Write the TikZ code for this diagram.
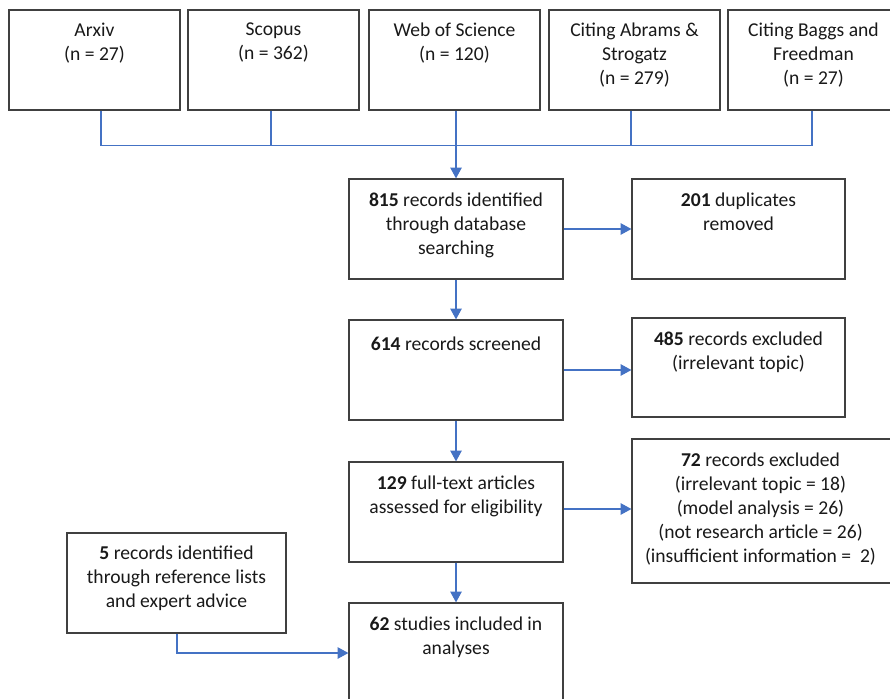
\documentclass[tikz,border=0pt]{standalone}
\usepackage{fontspec}
\setmainfont{Carlito}
\usetikzlibrary{fit,calc,arrows.meta}
\definecolor{conn}{HTML}{4472C4}
\definecolor{boxline}{HTML}{404040}
\begin{document}
\begin{tikzpicture}[x=0.75pt,y=-0.75pt,
  box/.style={draw=boxline,line width=0.9pt,inner sep=0pt,rectangle},
  lbl/.style={inner sep=0pt,align=center,font=\fontsize{14.7}{18}\selectfont,text=black!90,
    execute at begin node={\rule{0pt}{12.6pt}}},
  link/.style={draw=conn,line width=0.8pt},
  arrow/.style={link,-{Triangle[length=8pt,width=8.5pt]}}]
\useasboundingbox (0,0) rectangle (890,699);
\clip (0,0) rectangle (890,699);
% top source boxes
\node[box,fit={(9,10)(180,110)}] (a1) {};
\node[box,fit={(188,10)(359,110)}] (a2) {};
\node[box,fit={(369,10)(540,110)}] (a3) {};
\node[box,fit={(549,10)(720,110)}] (a4) {};
\node[box,fit={(728,10)(899,110)}] (a5) {};
\node[lbl,anchor=north] (ta1) at ($(a1.north)+(0,13.5)$) {Arxiv\\(n = 27)};
\node[lbl,anchor=north] (ta2) at ($(a2.north)+(0,13.5)$) {Scopus\\(n = 362)};
\node[lbl,anchor=north] (ta3) at ($(a3.north)+(0,13.5)$) {Web of Science\\(n = 120)};
\node[lbl,anchor=north] (ta4) at ($(a4.north)+(0,13.5)$) {Citing Abrams \&\\Strogatz\\(n = 279)};
\node[lbl,anchor=north] (ta5) at ($(a5.north)+(0,13.5)$) {Citing Baggs and\\Freedman\\(n = 27)};
% main column
\node[box,fit={(349,179)(563,279)}] (b815) {};
\node[box,fit={(632,179)(845,279)}] (b201) {};
\node[box,fit={(349,320)(563,420)}] (b614) {};
\node[box,fit={(632,318)(845,417)}] (b485) {};
\node[box,fit={(349,462)(563,562)}] (b129) {};
\node[box,fit={(632,439)(893,583)}] (b72) {};
\node[box,fit={(67,533)(286,633)}] (b5) {};
\node[box,fit={(349,603)(563,703)}] (b62) {};
\node[lbl,anchor=north] (t815) at ($(b815.north)+(0,14)$) {\textbf{815} records identified\\through database\\searching};
\node[lbl,anchor=north] (t201) at ($(b201.north)+(0,14)$) {\textbf{201} duplicates\\removed};
\node[lbl,anchor=north] (t614) at ($(b614.north)+(0,14)$) {\textbf{614} records screened};
\node[lbl,anchor=north] (t485) at ($(b485.north)+(0,14)$) {\textbf{485} records excluded\\(irrelevant topic)};
\node[lbl,anchor=north] (t129) at ($(b129.north)+(0,14)$) {\textbf{129} full-text articles\\assessed for eligibility};
\node[lbl,anchor=north] (t72) at ($(b72.north)+(-2,14)$) {\textbf{72} records excluded\\(irrelevant topic = 18)\\(model analysis = 26)\\(not research article = 26)\\(insufficient information = \ 2)};
\node[lbl,anchor=north] (t5) at ($(b5.north)+(0,13.5)$) {\textbf{5} records identified\\through reference lists\\and expert advice};
\node[lbl,anchor=north] (t62) at ($(b62.north)+(0,14)$) {\textbf{62} studies included in\\analyses};
% bracket joining the sources
\coordinate (barL) at ($(a1.south)+(6.5,35)$);
\coordinate (barR) at ($(a5.south)+(-1.5,35)$);
\draw[link] ($(a1.south)+(6.5,0)$) -- (barL) -- (barR) -- ($(a5.south)+(-1.5,0)$);
\draw[link] ($(a2.south)+(-2.5,0)$) -- ($(a2.south)+(-2.5,35)$);
\draw[link] ($(a4.south)+(-3.5,0)$) -- ($(a4.south)+(-3.5,35)$);
\draw[arrow] (a3.south -| b815.north) -- (b815.north);
% flow arrows
\draw[arrow] (b815.east) -- (b815.east -| b201.west);
\draw[arrow] (b815.south) -- (b614.north);
\draw[arrow] (b614.east) -- (b614.east -| b485.west);
\draw[arrow] (b614.south) -- (b129.north);
\draw[arrow] ($(b129.east)+(0,-3)$) -- ($(b129.east -| b72.west)+(0,-3)$);
\draw[arrow] (b129.south) -- (b62.north);
\draw[arrow] ($(b5.south)+(0.5,0)$) |- (b62.west);
\end{tikzpicture}
\end{document}
